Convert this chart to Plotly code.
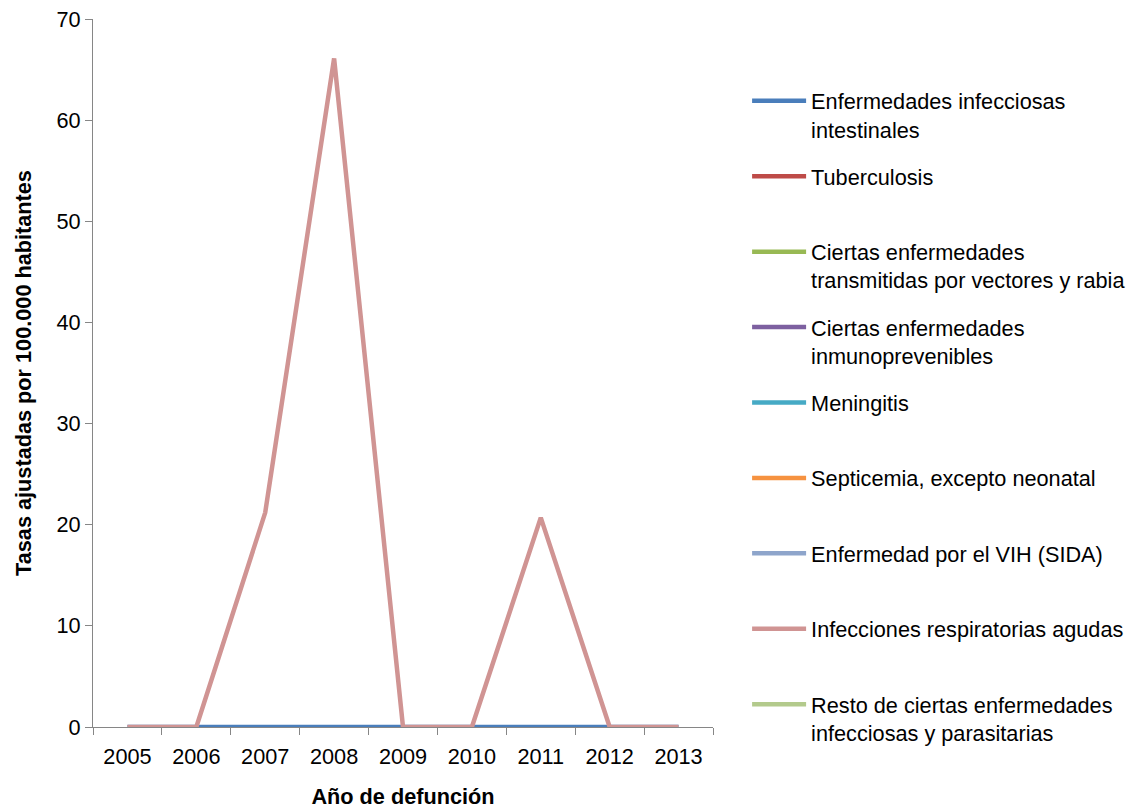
import plotly.graph_objects as go

# Years of death (category axis)
years = ["2005", "2006", "2007", "2008", "2009", "2010", "2011", "2012", "2013"]

# Adjusted rates per 100,000 inhabitants, one list per cause group
intestinales = [0, 0, 0, 0, 0, 0, 0, 0, 0]
tuberculosis = [None] * 9
vectores_rabia = [None] * 9
inmunoprevenibles = [None] * 9
meningitis = [None] * 9
septicemia = [None] * 9
vih_sida = [None] * 9
respiratorias_agudas = [0, 0, 21.2, 66.1, 0, 0, 20.7, 0, 0]
resto_infecciosas = [None] * 9

series_names = [
    "Enfermedades infecciosas<br>intestinales",
    "Tuberculosis",
    "Ciertas enfermedades<br>transmitidas por vectores y rabia",
    "Ciertas enfermedades<br>inmunoprevenibles",
    "Meningitis",
    "Septicemia, excepto neonatal",
    "Enfermedad por el VIH (SIDA)",
    "Infecciones respiratorias agudas",
    "Resto de ciertas enfermedades<br>infecciosas y parasitarias",
]
series_values = [
    intestinales, tuberculosis, vectores_rabia, inmunoprevenibles,
    meningitis, septicemia, vih_sida, respiratorias_agudas, resto_infecciosas,
]
series_colors = [
    "#4A7EBB", "#BE4B48", "#98B954", "#7D60A0", "#46AAC5",
    "#F69240", "#8EA5CB", "#D09493", "#B3CA8C",
]

FONT = "Liberation Sans, Arial, sans-serif"
FS = 21.7

fig = go.Figure()
for name, vals, color in zip(series_names, series_values, series_colors):
    # keep every legend entry two lines tall so entries are evenly spaced
    label = name if "<br>" in name else name + "<br> "
    fig.add_trace(go.Scatter(
        x=years, y=vals, name=label, mode="lines",
        legendgroup=name,
        line=dict(color=color, width=4.5),
        connectgaps=False,
    ))

fig.update_layout(
    width=1131, height=810,
    margin=dict(l=93, r=418, t=19, b=83, autoexpand=False),
    paper_bgcolor="white", plot_bgcolor="white",
    font=dict(family=FONT, size=FS, color="black"),
    showlegend=True,
    legend=dict(
        x=1.055, xanchor="left", y=0.9135, yanchor="top",
        font=dict(family=FONT, size=FS, color="black"),
        tracegroupgap=16, valign="top", itemwidth=54,
        bgcolor="rgba(0,0,0,0)",
    ),
)

fig.update_xaxes(
    type="category", range=[-0.5, 8.5],
    showgrid=False, zeroline=False,
    showline=True, linecolor="#868686", linewidth=1.3,
    ticks="outside", ticklen=7, tickcolor="#868686", tickwidth=1.3,
    tickson="boundaries", ticklabelstandoff=10,
    tickfont=dict(family=FONT, size=FS, color="black"),
    title=dict(text="<b>Año de defunción</b>", standoff=20,
               font=dict(family=FONT, size=FS, color="black")),
    automargin=False,
)
fig.update_yaxes(
    range=[0, 70], dtick=10, showgrid=False, zeroline=False,
    showline=True, linecolor="#868686", linewidth=1.3,
    ticks="outside", ticklen=7, tickcolor="#868686", tickwidth=1.3,
    tickfont=dict(family=FONT, size=FS, color="black"),
    title=dict(text="<b>Tasas ajustadas por 100.000 habitantes</b>", standoff=18,
               font=dict(family=FONT, size=FS, color="black")),
    automargin=False,
)

fig.write_html("out.html")
